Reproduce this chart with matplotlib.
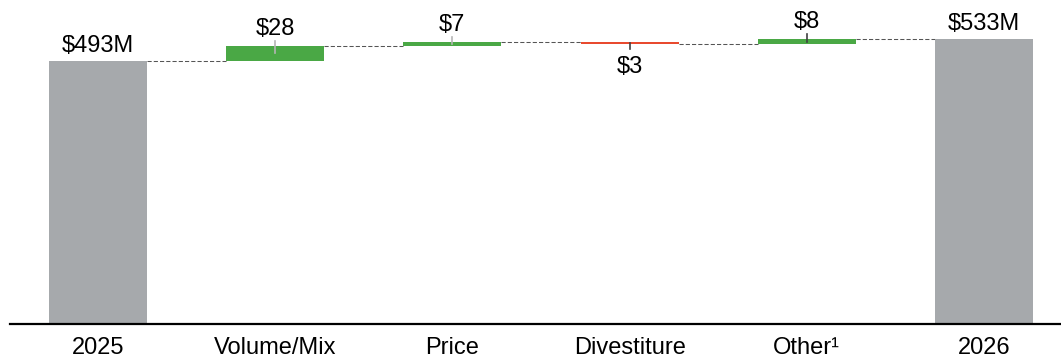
import numpy as np
import matplotlib
matplotlib.use('Agg')
import matplotlib.pyplot as plt

plt.rcParams['font.family'] = ['Liberation Sans', 'DejaVu Sans']

# data
categories = ['2025', 'Volume/Mix', 'Price', 'Divestiture', 'Other\u00b9', '2026']
start_total = 493
deltas = [28, 7, -3, 8]
end_total = 533
total_labels = ['$493M', '$533M']
delta_labels = ['$28', '$7', '$3', '$8']

GRAY = '#a6a9ac'
GREEN = '#4aa845'
RED = '#e84a2f'
tick_colors = ['#b5b5b5', '#b5b5b5', '#404040', '#404040']

fig = plt.figure(figsize=(10.61, 3.59), dpi=100)
ax = fig.add_axes([10 / 1061, 35 / 359, 1051 / 1061, 324 / 359])

w = 0.553
x = np.arange(len(categories))

# totals
ax.bar(x[0], start_total, width=w, color=GRAY, zorder=2)
ax.bar(x[-1], end_total, width=w, color=GRAY, zorder=2)
ax.annotate(total_labels[0], (x[0], start_total), xytext=(0, 6.5), textcoords='offset points',
            ha='center', va='baseline', fontsize=17)
ax.annotate(total_labels[1], (x[-1], end_total), xytext=(0, 6.5), textcoords='offset points',
            ha='center', va='baseline', fontsize=17)

# deltas
levels = [start_total]
cum = start_total
for i, d in enumerate(deltas):
    xi = x[i + 1]
    col = GREEN if d > 0 else RED
    ax.bar(xi, d, bottom=cum, width=w, color=col, zorder=2)
    end = cum + d
    mid = cum + d / 2
    if d > 0:
        ax.plot([xi, xi], [mid, end + 10], color=tick_colors[i], lw=1.2, zorder=3)
        ax.annotate(delta_labels[i], (xi, end), xytext=(0, 8), textcoords='offset points',
                    ha='center', va='baseline', fontsize=17)
    else:
        ax.plot([xi, xi], [mid, end - 10], color=tick_colors[i], lw=1.2, zorder=3)
        ax.annotate(delta_labels[i], (xi, end), xytext=(0, -9), textcoords='offset points',
                    ha='center', va='top', fontsize=17)
    cum = end
    levels.append(cum)

# dashed connectors
for i, lv in enumerate(levels):
    ax.plot([x[i] + w / 2, x[i + 1] - w / 2], [lv, lv], color='#555555', lw=0.75,
            linestyle=(0, (4, 2)), zorder=1)

ax.set_xlim(-0.497, 5.435)
ax.set_ylim(0, 607)
ax.set_xticks(x)
ax.set_xticklabels(categories, fontsize=17)
ax.tick_params(axis='x', length=0, pad=9)
ax.set_yticks([])
for s in ['top', 'right', 'left']:
    ax.spines[s].set_visible(False)
ax.spines['bottom'].set_linewidth(1.6)
ax.spines['bottom'].set_color('black')

fig.savefig('out.png', dpi=100)
